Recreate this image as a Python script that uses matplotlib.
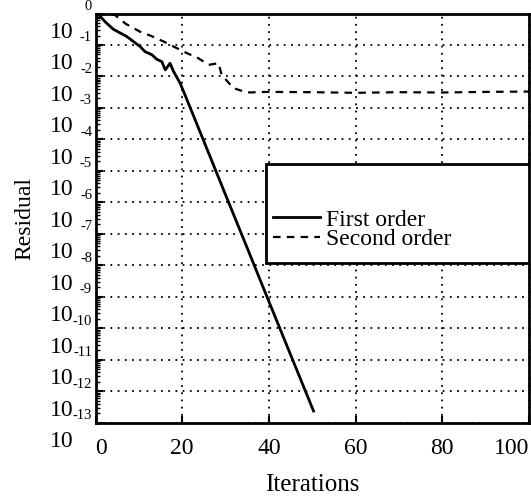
import numpy as np
import matplotlib.pyplot as plt
from matplotlib.patches import Rectangle
from matplotlib.ticker import LogLocator, NullFormatter

plt.rcParams['font.family'] = ['Liberation Serif', 'DejaVu Serif']

# residual history (log10 of residual) for both schemes
first_iter = [0.5, 2.2, 4.1, 7.2, 10.3, 11.4, 13.0, 14.1, 15.3, 16.1, 17.2, 18.0,
              19.5, 20.3, 25.0, 30.0, 35.0, 40.0, 45.0, 50.3]
first_log = [0.0, -0.26, -0.50, -0.73, -1.05, -1.21, -1.31, -1.45, -1.53, -1.79,
             -1.58, -1.84, -2.21, -2.47, -4.06, -5.76, -7.45, -9.15, -10.84, -12.63]

second_iter = [0.5, 4.5, 7.0, 10.3, 12.8, 15.7, 18.0, 21.1, 23.7, 26.1, 28.4, 29.1,
               31.8, 34.9, 40.0, 50.0, 60.0, 70.0, 80.0, 90.0, 100.0]
second_log = [0.0, -0.05, -0.33, -0.58, -0.71, -0.89, -1.05, -1.26, -1.42, -1.63,
              -1.58, -1.95, -2.37, -2.51, -2.49, -2.50, -2.52, -2.50, -2.51, -2.49, -2.48]

xticks = [0, 20, 40, 60, 80, 100]
exponents = list(range(0, -14, -1))

fig = plt.figure(figsize=(5.31, 5.01), dpi=100)
ax = fig.add_axes([95.5 / 531, 1 - 422.7 / 501, 433.5 / 531, 409.2 / 501])

ax.plot(first_iter, 10.0 ** np.array(first_log), color='black', lw=2.0,
        label='First order')
ax.plot(second_iter, 10.0 ** np.array(second_log), color='black', lw=1.6,
        dashes=(3.4, 2.8), label='Second order')

ax.set_yscale('log')
ax.set_xlim(0, 100)
ax.set_ylim(1e-13, 1e0)

ax.set_xticks(xticks)
ax.set_xticklabels([str(t) for t in xticks], fontsize=17)
# end labels are pulled inward so they stay on the page
xlabels = ax.get_xticklabels()
xlabels[0].set_horizontalalignment('left')
xlabels[-1].set_horizontalalignment('right')
ax.set_yticks([10.0 ** k for k in exponents])
ax.yaxis.set_minor_locator(LogLocator(base=10, subs=np.arange(2, 10), numticks=30))
ax.yaxis.set_minor_formatter(NullFormatter())
ax.set_yticklabels([])
ax.tick_params(axis='both', which='major', direction='in', length=5, width=1.5,
               top=False, right=False)
ax.tick_params(axis='y', which='minor', direction='in', length=3, width=1.0,
               right=False)
ax.tick_params(axis='x', pad=11)

for side in ax.spines.values():
    side.set_linewidth(2.0)

ax.grid(True, which='major', color='black', linestyle=(0, (1, 3)), lw=1.3)

# split tick labels: exponent at the tick, base "10" hanging below it
for k in exponents:
    ax.annotate(str(k), xy=(0, 10.0 ** k), xycoords=('axes fraction', 'data'),
                xytext=(-2.5, 0.5), textcoords='offset points',
                ha='right', va='bottom', fontsize=10.5)
    ax.annotate('10', xy=(0, 10.0 ** k), xycoords=('axes fraction', 'data'),
                xytext=(-16, -6), textcoords='offset points',
                ha='right', va='top', fontsize=17)

ax.set_xlabel('Iterations', fontsize=18, labelpad=11)
ax.set_ylabel('Residual', fontsize=17, labelpad=40)

# legend box
box = Rectangle((0.393, 0.391), 0.607, 0.242, transform=ax.transAxes,
                facecolor='white', edgecolor='black', lw=2.0, zorder=4)
ax.add_patch(box)
leg = ax.legend(loc='lower left', bbox_to_anchor=(0.393, 0.405), frameon=False,
                fontsize=17, handlelength=2.0, handletextpad=0.25,
                labelspacing=-0.1, borderpad=0.3, borderaxespad=0.0)
leg.set_zorder(5)

fig.savefig('out.png', dpi=100)
